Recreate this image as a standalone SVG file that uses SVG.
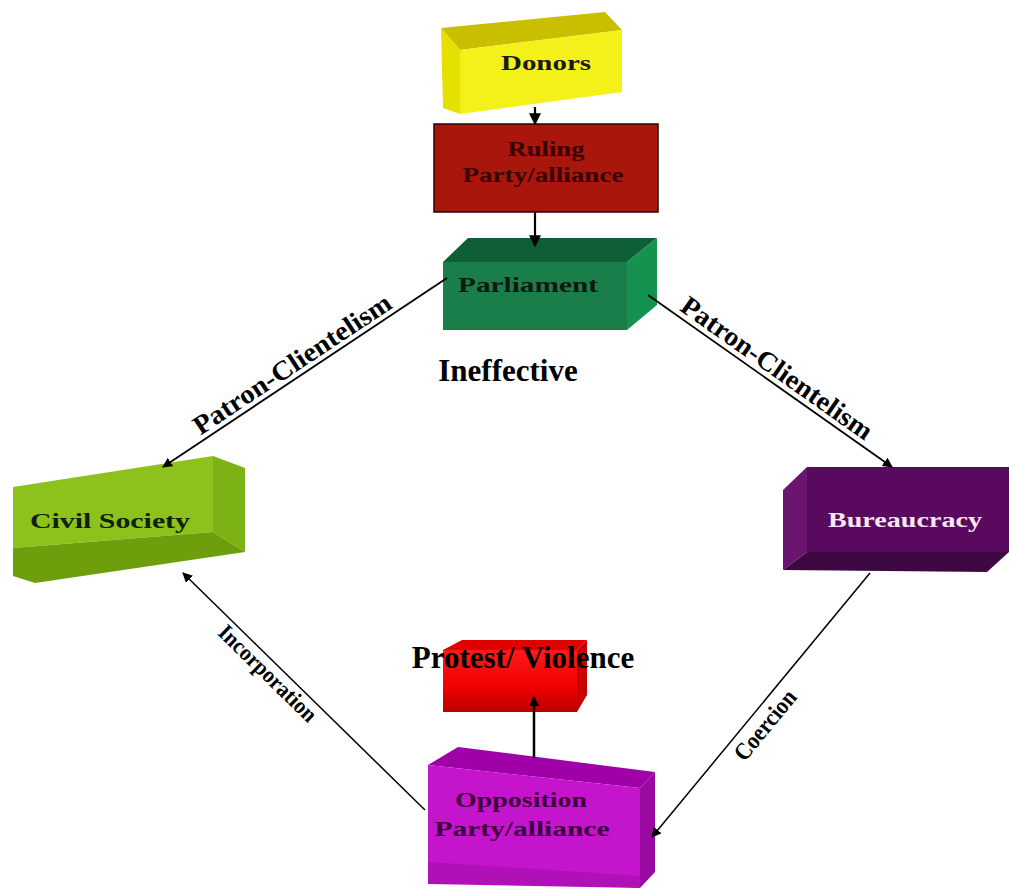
<svg xmlns="http://www.w3.org/2000/svg" width="1009" height="888" viewBox="0 0 1009 888">
  <defs>
    <marker id="ah" viewBox="0 0 10 10" refX="9" refY="5" markerWidth="10" markerHeight="10" markerUnits="userSpaceOnUse" orient="auto">
      <path d="M0,0 L10,5 L0,10 Z" fill="#000"/>
    </marker>
    <marker id="ahv" viewBox="0 0 10 10" refX="9" refY="5" markerWidth="12" markerHeight="13" markerUnits="userSpaceOnUse" orient="auto">
      <path d="M0,0 L10,5 L0,10 Z" fill="#000"/>
    </marker>
    <linearGradient id="redFront" x1="0" y1="0" x2="0" y2="1">
      <stop offset="0" stop-color="#FF1A1A"/>
      <stop offset="0.6" stop-color="#F00000"/>
      <stop offset="1" stop-color="#B80000"/>
    </linearGradient>
  </defs>
  <style>
    .node text { font-family: "Liberation Serif", "Times New Roman", serif; font-weight: bold; }
    .lbl { font-family: "Liberation Serif", "Times New Roman", serif; font-weight: bold; fill: #000; }
    .big { font-family: "Liberation Serif", "Times New Roman", serif; font-weight: bold; font-size: 31px; fill: #000; }
    .conn line { stroke: #000; fill: none; }
  </style>
  <rect width="1009" height="888" fill="#fff"/>

  <!-- Donors -->
  <g id="donors" class="node">
    <polygon points="441,28 605,12 622,30 460,50" fill="#C9BF00"/>
    <polygon points="441,28 460,50 460,114 443,108" fill="#E6E000"/>
    <polygon points="460,50 622,30 622,92 460,114" fill="#F4F01A"/>
    <text x="546" y="70" font-size="22" fill="#1a1a10" text-anchor="middle" textLength="90" lengthAdjust="spacingAndGlyphs">Donors</text>
  </g>

  <!-- Ruling Party/alliance -->
  <g id="ruling" class="node">
    <rect x="434" y="124" width="224" height="88" fill="#A8160C" stroke="#2a0000" stroke-width="1.5"/>
    <text x="546" y="156" font-size="21" fill="#3a0000" text-anchor="middle" textLength="77" lengthAdjust="spacingAndGlyphs">Ruling</text>
    <text x="543" y="182" font-size="21" fill="#3a0000" text-anchor="middle" textLength="161" lengthAdjust="spacingAndGlyphs">Party/alliance</text>
  </g>

  <!-- Parliament -->
  <g id="parliament" class="node">
    <polygon points="443,262 468,238 657,238 627,262" fill="#0E5E36"/>
    <polygon points="443,262 627,262 627,330 443,330" fill="#1A7E4A"/>
    <polygon points="627,262 657,238 657,305 627,330" fill="#14924F"/>
    <text x="528" y="292" font-size="22" fill="#0d1a10" text-anchor="middle" textLength="140" lengthAdjust="spacingAndGlyphs">Parliament</text>
  </g>

  <!-- Civil Society -->
  <g id="civil-society" class="node">
    <polygon points="13,487 213,456 213,532 13,548" fill="#8DC21C"/>
    <polygon points="213,456 245,468 245,552 213,532" fill="#7DB214"/>
    <polygon points="13,548 213,532 245,552 35,583 13,576" fill="#6E9E0C"/>
    <text x="110" y="528" font-size="22" fill="#102008" text-anchor="middle" textLength="160" lengthAdjust="spacingAndGlyphs">Civil Society</text>
  </g>

  <!-- Bureaucracy -->
  <g id="bureaucracy" class="node">
    <polygon points="783,490 807,467 807,552 783,570" fill="#6B1570"/>
    <polygon points="807,467 1009,467 1009,552 807,552" fill="#5A0A5E"/>
    <polygon points="783,570 807,552 1009,552 987,572" fill="#3E0842"/>
    <text x="905" y="527" font-size="22" fill="#F6E6F6" text-anchor="middle" textLength="154" lengthAdjust="spacingAndGlyphs">Bureaucracy</text>
  </g>

  <!-- Protest/ Violence box -->
  <g id="protest" class="node">
    <polygon points="443,650 462,640 587,640 577,650" fill="#E00000"/>
    <polygon points="443,650 577,650 577,712 443,712" fill="url(#redFront)"/>
    <polygon points="577,650 587,640 587,695 577,712" fill="#C80000"/>
  </g>

  <!-- Opposition Party/alliance -->
  <g id="opposition" class="node">
    <polygon points="428,765 458,747 655,772 640,788" fill="#A000A8"/>
    <polygon points="428,765 640,788 640,888 428,870" fill="#C414CC"/>
    <polygon points="640,788 655,772 655,872 640,888" fill="#9A0AA0"/>
    <polygon points="428,862 640,876 640,888 428,884" fill="#B010B8"/>
    <text x="521" y="807" font-size="22" fill="#400040" text-anchor="middle" textLength="132" lengthAdjust="spacingAndGlyphs">Opposition</text>
    <text x="522" y="836" font-size="22" fill="#400040" text-anchor="middle" textLength="175" lengthAdjust="spacingAndGlyphs">Party/alliance</text>
  </g>

  <!-- Connectors -->
  <g id="connectors" class="conn">
    <line x1="535" y1="107" x2="535" y2="124" stroke-width="2.2" marker-end="url(#ahv)"/>
    <line x1="535" y1="212" x2="535" y2="246" stroke-width="2.2" marker-end="url(#ahv)"/>
    <line x1="447" y1="278" x2="163" y2="467" stroke-width="1.8" marker-end="url(#ah)"/>
    <line x1="648" y1="295" x2="892" y2="467" stroke-width="1.8" marker-end="url(#ah)"/>
    <line x1="425" y1="810" x2="183" y2="573" stroke-width="1.5" marker-end="url(#ah)"/>
    <line x1="870" y1="573" x2="652" y2="837" stroke-width="1.5" marker-end="url(#ah)"/>
    <line x1="534" y1="758" x2="534" y2="697" stroke-width="2.5" marker-end="url(#ah)"/>
  </g>

  <!-- Connector labels -->
  <g id="labels">
    <text class="lbl" transform="translate(292,364) rotate(-33.6)" x="0" y="9" font-size="27" text-anchor="middle" textLength="232" lengthAdjust="spacingAndGlyphs">Patron-Clientelism</text>
    <text class="lbl" transform="translate(777,368) rotate(35.2)" x="0" y="9" font-size="27" text-anchor="middle" textLength="228" lengthAdjust="spacingAndGlyphs">Patron-Clientelism</text>
    <text class="lbl" transform="translate(268,673) rotate(44.4)" x="0" y="8" font-size="23" text-anchor="middle" textLength="128" lengthAdjust="spacingAndGlyphs">Incorporation</text>
    <text class="lbl" transform="translate(765,725) rotate(-50.4)" x="0" y="8" font-size="24" font-weight="normal" text-anchor="middle" textLength="84" lengthAdjust="spacingAndGlyphs">Coercion</text>
    <text class="big" x="508" y="381" text-anchor="middle">Ineffective</text>
    <text class="big" x="523" y="668" text-anchor="middle">Protest/ Violence</text>
  </g>
</svg>
